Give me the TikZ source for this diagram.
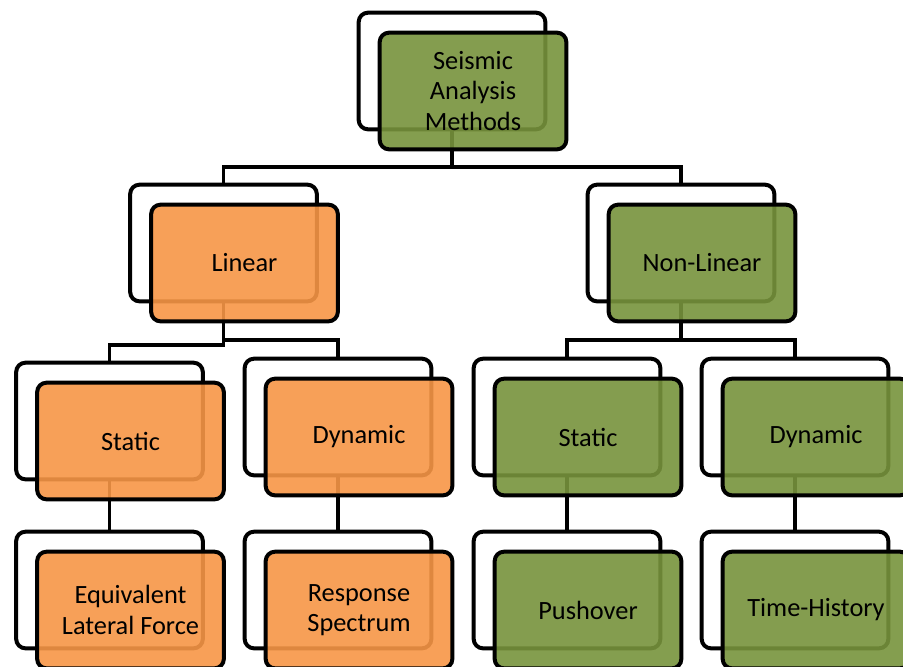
\documentclass[tikz,border=0pt]{standalone}
\usepackage{fontspec}
\setmainfont{Carlito}
\definecolor{boxorange}{RGB}{247,150,70}
\definecolor{boxgreen}{RGB}{119,147,60}
\begin{document}
\begin{tikzpicture}[x=0.03cm,y=-0.03cm,
  backbox/.style={rectangle,rounded corners=8pt,draw=black,line width=3.4pt,fill=white,minimum width=5.6cm,minimum height=3.5cm},
  frontbox/.style={backbox,fill=#1,fill opacity=0.9,text opacity=1,align=center,font=\fontsize{22.5}{25.8}\selectfont},
  link/.style={draw=black,line width=3.4pt}]
\useasboundingbox (0,0) rectangle (903,666);
% back boxes
\node[backbox] (root) at (452,71) {};
\node[backbox] (lin) at (223.5,243) {};
\node[backbox] (nonlin) at (681,243) {};
\node[backbox] (lstat) at (109.5,421) {};
\node[backbox] (ldyn) at (338,417) {};
\node[backbox] (nstat) at (567,417) {};
\node[backbox] (ndyn) at (795,417) {};
\node[backbox] (elf) at (109.5,590) {};
\node[backbox] (rs) at (338,590) {};
\node[backbox] (push) at (567,590) {};
\node[backbox] (th) at (795,590) {};
% connectors
\draw[link] (root.south) -- (root.south |- 0,167) -| (lin.north);
\draw[link] (root.south |- 0,167) -| (nonlin.north);
\draw[link] (lin.south) -- (lin.south |- 0,345) -| (lstat.north);
\draw[link] (lin.south |- 0,345) -- (lin.south |- 0,340) -| (ldyn.north);
\draw[link] (nonlin.south) -- (nonlin.south |- 0,340) -| (nstat.north);
\draw[link] (nonlin.south |- 0,340) -| (ndyn.north);
\draw[link] (lstat.south) -- (elf.north);
\draw[link] (ldyn.south) -- (rs.north);
\draw[link] (nstat.south) -- (push.north);
\draw[link] (ndyn.south) -- (th.north);
% front boxes
\node[frontbox=boxgreen] (rootF) at ([shift={(21,20)}]root.center) {Seismic\\Analysis\\Methods};
\node[frontbox=boxorange] (linF) at ([shift={(21,20)}]lin.center) {Linear};
\node[frontbox=boxgreen] (nonlinF) at ([shift={(21,20)}]nonlin.center) {Non-Linear};
\node[frontbox=boxorange] (lstatF) at ([shift={(21,20)}]lstat.center) {Static};
\node[frontbox=boxorange] (ldynF) at ([shift={(21,20)}]ldyn.center) {Dynamic};
\node[frontbox=boxgreen] (nstatF) at ([shift={(21,20)}]nstat.center) {Static};
\node[frontbox=boxgreen] (ndynF) at ([shift={(21,20)}]ndyn.center) {Dynamic};
\node[frontbox=boxorange] (elfF) at ([shift={(21,20)}]elf.center) {Equivalent\\Lateral Force};
\node[frontbox=boxorange] (rsF) at ([shift={(21,20)}]rs.center) {Response\\Spectrum};
\node[frontbox=boxgreen] (pushF) at ([shift={(21,20)}]push.center) {Pushover};
\node[frontbox=boxgreen] (thF) at ([shift={(21,20)}]th.center) {Time-History};
\end{tikzpicture}
\end{document}
